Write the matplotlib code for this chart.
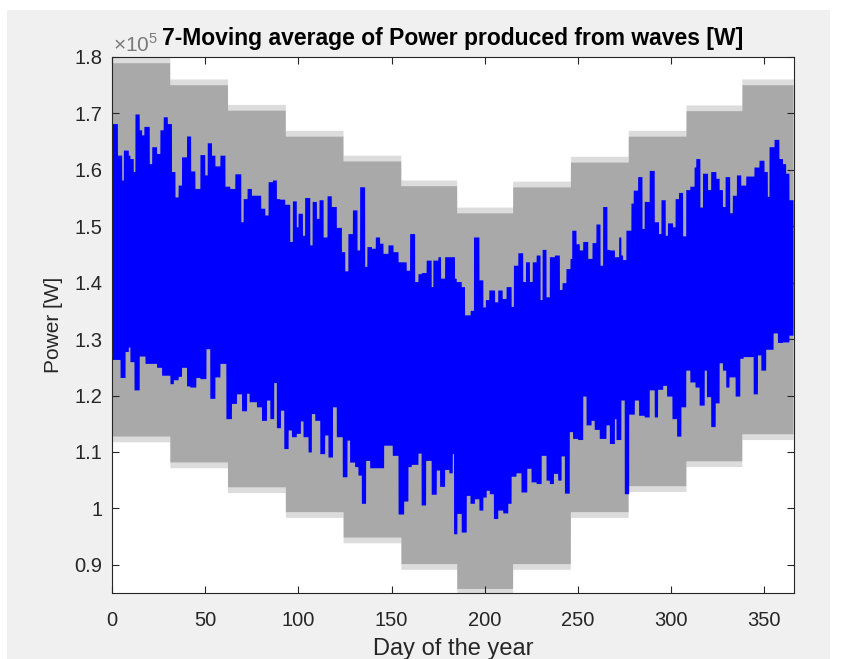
import numpy as np
import matplotlib
matplotlib.use("Agg")
import matplotlib.pyplot as plt
from matplotlib.patches import Rectangle

plt.rcParams['font.family'] = ['Liberation Sans', 'DejaVu Sans']
plt.rcParams['mathtext.fontset'] = 'custom'
plt.rcParams['mathtext.rm'] = 'Liberation Sans'

# ---------------- data (power in units of 1e5 W) ----------------
# grey band: monthly upper / lower levels of the raw power signal
band_start_days = [0, 31, 62, 93, 124, 155, 185, 215, 246, 277, 308, 338]
band_upper = [1.79, 1.751, 1.706, 1.660, 1.616, 1.572, 1.524, 1.570, 1.614, 1.660, 1.705, 1.751]
band_lower = [1.128, 1.082, 1.038, 0.994, 0.949, 0.902, 0.858, 0.902, 0.994, 1.040, 1.084, 1.132]
band_spike = 0.010  # height of the sparse spikes beyond the solid band

# blue moving average: upper envelope
top_days = [0, 2.9, 5.2, 6.1, 8.75, 9.6, 11.4, 12.3, 14.6, 15.9, 17.1, 20.0, 21.3, 23.9, 25.7,
            27.5, 29.7, 31.9, 33.8, 35.5, 37.3, 40.0, 42.2, 44.5, 47.2, 49.8, 51.1, 53.4, 55.2,
            57.9, 60.6, 63.2, 65.9, 69.1, 70.4, 72.5, 74.8, 79.8, 82.0, 83.8, 86.1, 88.2, 90.0,
            92.7, 95.4, 96.8, 98.9, 99.8, 102.2, 103.4, 106.1, 107.4, 109.7, 111.1, 113.3, 115.4,
            117.7, 120.4, 123.1, 124.9, 126.6, 129.0, 131.5, 132.9, 135.6, 136.8, 139.2, 141.3,
            143.6, 145.4, 148.1, 150.8, 153.5, 157.9, 159.7, 162.4, 164.2, 166.0, 168.6, 171.3,
            172.2, 174.9, 176.3, 178.5, 181.1, 183.8, 184.7, 187.4, 189.2, 192.2, 194.0, 196.9,
            199.0, 200.4, 202.2, 205.3, 207.0, 209.4, 211.5, 214.2, 215.4, 217.8, 220.4, 221.9,
            224.0, 225.5, 227.6, 229.7, 230.8, 232.9, 234.7, 237.4, 240.1, 241.5, 243.6, 245.8,
            246.7, 249.0, 250.8, 252.6, 255.3, 257.6, 259.7, 261.9, 263.3, 265.6, 266.9, 269.6,
            271.9, 273.1, 274.0, 275.8, 278.5, 279.7, 282.1, 284.4, 285.6, 288.3, 291.0, 293.3,
            294.6, 296.9, 298.1, 300.8, 302.2, 304.0, 306.2, 307.9, 310.1, 312.4, 313.3, 315.5,
            316.9, 319.6, 321.3, 324.1, 325.8, 327.6, 329.0, 331.5, 332.9, 335.1, 337.4, 340.1,
            344.5, 347.2, 349.9, 351.7, 352.6, 355.3, 357.9, 359.8, 361.5, 363.3]
top_vals = [1.682, 1.626, 1.582, 1.635, 1.626, 1.620, 1.597, 1.699, 1.671, 1.662, 1.677, 1.611,
            1.641, 1.629, 1.671, 1.694, 1.682, 1.597, 1.552, 1.573, 1.623, 1.660, 1.598, 1.567,
            1.627, 1.591, 1.648, 1.626, 1.607, 1.626, 1.571, 1.567, 1.593, 1.508, 1.549, 1.567,
            1.555, 1.532, 1.520, 1.579, 1.582, 1.549, 1.548, 1.539, 1.473, 1.545, 1.499, 1.523,
            1.484, 1.551, 1.467, 1.544, 1.514, 1.547, 1.481, 1.554, 1.535, 1.498, 1.455, 1.421,
            1.487, 1.529, 1.458, 1.570, 1.429, 1.464, 1.461, 1.481, 1.470, 1.452, 1.467, 1.455,
            1.437, 1.422, 1.487, 1.402, 1.416, 1.418, 1.440, 1.393, 1.440, 1.446, 1.408, 1.446,
            1.446, 1.408, 1.402, 1.393, 1.343, 1.351, 1.481, 1.405, 1.357, 1.370, 1.387, 1.366,
            1.387, 1.372, 1.393, 1.358, 1.431, 1.453, 1.402, 1.437, 1.402, 1.437, 1.449, 1.370,
            1.459, 1.375, 1.446, 1.449, 1.388, 1.400, 1.425, 1.443, 1.493, 1.469, 1.458, 1.473,
            1.443, 1.471, 1.504, 1.431, 1.535, 1.459, 1.458, 1.446, 1.481, 1.449, 1.441, 1.493,
            1.541, 1.564, 1.588, 1.496, 1.544, 1.599, 1.508, 1.487, 1.547, 1.484, 1.506, 1.499,
            1.549, 1.560, 1.483, 1.565, 1.571, 1.605, 1.620, 1.534, 1.594, 1.565, 1.597, 1.585,
            1.565, 1.535, 1.588, 1.524, 1.555, 1.591, 1.573, 1.589, 1.605, 1.617, 1.597, 1.553,
            1.641, 1.654, 1.620, 1.611, 1.594, 1.547]

# blue moving average: lower envelope
bot_days = [0, 4.3, 7.0, 8.75, 9.6, 11.8, 14.6, 17.7, 23.9, 26.6, 31.1, 32.9, 35.5, 37.3, 40.0,
            41.8, 45.0, 47.2, 50.4, 52.5, 55.2, 57.9, 61.1, 64.1, 66.8, 69.5, 72.2, 73.6, 77.5,
            80.2, 82.9, 84.7, 86.8, 88.2, 90.4, 92.2, 94.5, 96.3, 98.9, 101.1, 102.5, 105.2,
            107.0, 108.8, 111.5, 114.1, 115.9, 118.3, 120.4, 123.6, 126.1, 127.5, 130.2, 132.0,
            133.8, 136.1, 138.3, 145.8, 150.4, 153.5, 156.5, 158.8, 160.6, 164.2, 165.9, 168.3,
            171.3, 174.0, 175.8, 178.5, 180.8, 182.6, 183.3, 185.1, 187.4, 190.1, 192.1, 194.5,
            196.9, 199.0, 200.8, 202.5, 204.7, 207.0, 209.7, 212.4, 214.2, 216.8, 219.5, 222.6,
            224.9, 227.6, 230.3, 232.9, 234.7, 236.9, 239.2, 241.0, 242.8, 245.4, 247.2, 249.9,
            252.6, 254.4, 257.1, 258.8, 261.5, 265.1, 266.9, 269.6, 270.5, 273.1, 274.9, 277.3,
            280.3, 282.6, 285.6, 288.3, 291.0, 292.8, 295.5, 297.6, 300.5, 303.0, 305.3, 307.9,
            310.1, 312.9, 315.1, 317.8, 319.0, 321.3, 323.7, 325.8, 327.6, 329.4, 331.1, 334.4,
            336.9, 338.7, 344.1, 346.4, 348.2, 350.8, 354.8, 357.1, 359.8, 363.3]
bot_vals = [1.264, 1.232, 1.278, 1.286, 1.260, 1.210, 1.270, 1.257, 1.250, 1.236, 1.221, 1.228,
            1.234, 1.250, 1.217, 1.215, 1.232, 1.230, 1.283, 1.195, 1.233, 1.257, 1.159, 1.186,
            1.203, 1.173, 1.204, 1.189, 1.180, 1.156, 1.192, 1.159, 1.223, 1.143, 1.174, 1.106,
            1.139, 1.127, 1.133, 1.155, 1.127, 1.100, 1.168, 1.156, 1.097, 1.130, 1.091, 1.180,
            1.127, 1.056, 1.121, 1.082, 1.074, 1.059, 1.009, 1.085, 1.072, 1.112, 1.094, 0.990,
            1.013, 1.074, 1.078, 1.098, 1.006, 1.085, 1.025, 1.068, 1.039, 1.069, 1.063, 1.097,
            0.955, 0.991, 0.958, 1.023, 1.009, 1.017, 0.997, 1.020, 1.032, 1.026, 0.982, 0.997,
            0.992, 1.009, 1.057, 1.063, 1.029, 1.071, 1.047, 1.044, 1.094, 1.050, 1.044, 1.062,
            1.050, 1.093, 1.027, 1.136, 1.124, 1.122, 1.199, 1.148, 1.156, 1.140, 1.124, 1.148,
            1.115, 1.159, 1.122, 1.192, 1.026, 1.167, 1.192, 1.165, 1.162, 1.210, 1.162, 1.211,
            1.218, 1.199, 1.159, 1.128, 1.180, 1.245, 1.224, 1.215, 1.183, 1.245, 1.198, 1.145,
            1.187, 1.258, 1.245, 1.215, 1.233, 1.199, 1.266, 1.269, 1.203, 1.272, 1.245, 1.282,
            1.311, 1.294, 1.295, 1.307]

last_day = 365.5

x_ticks = [0, 50, 100, 150, 200, 250, 300, 350]
y_ticks = [0.9, 1.0, 1.1, 1.2, 1.3, 1.4, 1.5, 1.6, 1.7, 1.8]

title_text = "7-Moving average of Power produced from waves [W]"
xlabel_text = "Day of the year"
ylabel_text = "Power [W]"


def step_lookup(days, vals, x):
    idx = np.searchsorted(np.asarray(days), x, side='right') - 1
    return np.asarray(vals)[np.clip(idx, 0, len(vals) - 1)]


# ---------------- figure ----------------
W, H = 858, 659
fig = plt.figure(figsize=(W / 100, H / 100), dpi=100)
fig.patch.set_facecolor('white')
fig.patches.append(Rectangle((7 / W, 0), (830 - 7) / W, (H - 10) / H,
                             transform=fig.transFigure, facecolor='#F0F0F0',
                             edgecolor='none', zorder=-10))

ax = fig.add_axes([112 / W, 1 - 593 / H, (794 - 112) / W, (593 - 57) / H])
ax.set_facecolor('white')

grid = np.linspace(0, last_day, 8000)
g_up = step_lookup(band_start_days, band_upper, grid)
g_lo = step_lookup(band_start_days, band_lower, grid)
# sparse spikes at the band edges (drawn as a light fringe)
ax.fill_between(grid, g_up, g_up + band_spike, color='#DCDCDC', linewidth=0, zorder=1)
ax.fill_between(grid, g_lo - band_spike, g_lo, color='#DCDCDC', linewidth=0, zorder=1)
ax.fill_between(grid, g_lo, g_up, color='#A9A9A9', linewidth=0, zorder=1)

b_up = step_lookup(top_days, top_vals, grid)
b_lo = step_lookup(bot_days, bot_vals, grid)
ax.fill_between(grid, b_lo, b_up, color='#0000FF', linewidth=0, zorder=2)

ax.set_xlim(0, 366)
ax.set_ylim(0.85, 1.8)
ax.set_xticks(x_ticks)
ax.set_yticks(y_ticks)
ax.set_xticklabels([f"{t:g}" for t in x_ticks])
ax.set_yticklabels([f"{t:g}" for t in y_ticks])

tc = '#262626'
ax.tick_params(direction='in', top=True, right=True, length=5, width=0.8,
               colors=tc, labelsize=14.5)
ax.tick_params(axis='x', pad=13)
ax.tick_params(axis='y', pad=7)
for s in ax.spines.values():
    s.set_color(tc)
    s.set_linewidth(0.8)
    s.set_zorder(5)

ax.set_xlabel(xlabel_text, fontsize=17, color=tc, labelpad=6)
ax.set_ylabel(ylabel_text, fontsize=15, color=tc, labelpad=8)
ax.set_title(title_text, fontsize=16.5, fontweight='bold', color='black', pad=9)

ax.text(0.002, 1 + 5 / 536, r'$\times10^{5}$', transform=ax.transAxes, fontsize=15,
        color='#7a7a7a', ha='left', va='baseline')

fig.savefig('out.png', dpi=100, facecolor=fig.get_facecolor())
